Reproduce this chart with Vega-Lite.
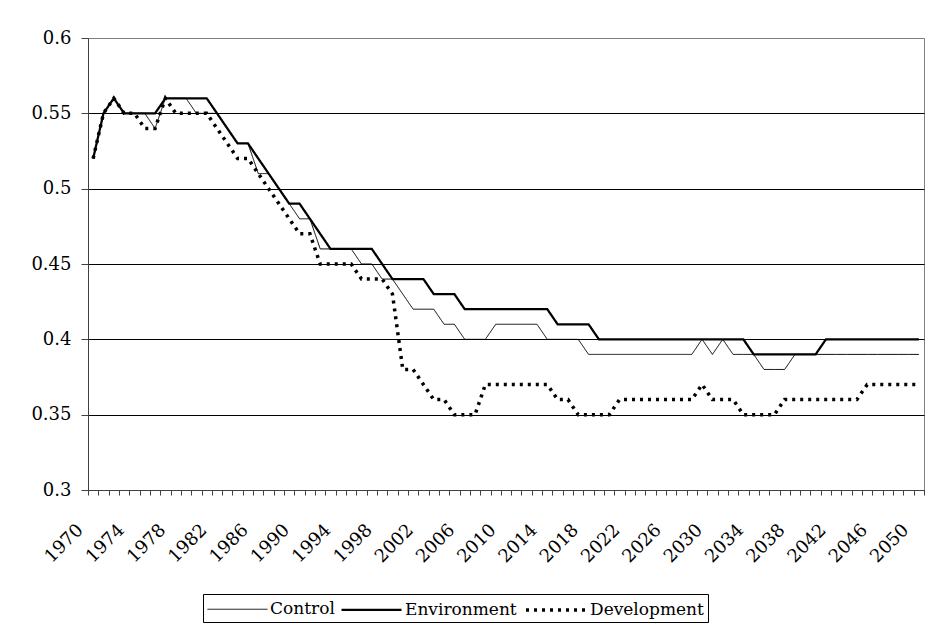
{
"$schema": "https://vega.github.io/schema/vega-lite/v6.json",
"width": 836, "height": 452,
"autosize": {"type": "none"},
"padding": {"left": 88, "top": 38, "right": 2, "bottom": 152},
"background": "white",
"config": {
 "font": "DejaVu Serif",
 "view": {"stroke": "#808080", "strokeWidth": 1},
 "axis": {"labelFont": "DejaVu Serif", "labelFontSize": 18, "labelColor": "black", "domainColor": "#404040", "tickColor": "#404040", "title": null},
 "legend": {"labelFont": "DejaVu Serif"}
},
"data": {"values": [
{"year":1970,"series":"Control","value":0.52},{"year":1971,"series":"Control","value":0.55},{"year":1972,"series":"Control","value":0.56},{"year":1973,"series":"Control","value":0.55},{"year":1974,"series":"Control","value":0.55},{"year":1975,"series":"Control","value":0.55},{"year":1976,"series":"Control","value":0.54},{"year":1977,"series":"Control","value":0.56},{"year":1978,"series":"Control","value":0.56},{"year":1979,"series":"Control","value":0.56},
{"year":1980,"series":"Control","value":0.55},{"year":1981,"series":"Control","value":0.55},{"year":1982,"series":"Control","value":0.55},{"year":1983,"series":"Control","value":0.54},{"year":1984,"series":"Control","value":0.53},{"year":1985,"series":"Control","value":0.53},{"year":1986,"series":"Control","value":0.51},{"year":1987,"series":"Control","value":0.51},{"year":1988,"series":"Control","value":0.50},{"year":1989,"series":"Control","value":0.49},
{"year":1990,"series":"Control","value":0.48},{"year":1991,"series":"Control","value":0.48},{"year":1992,"series":"Control","value":0.46},{"year":1993,"series":"Control","value":0.46},{"year":1994,"series":"Control","value":0.46},{"year":1995,"series":"Control","value":0.46},{"year":1996,"series":"Control","value":0.45},{"year":1997,"series":"Control","value":0.45},{"year":1998,"series":"Control","value":0.44},{"year":1999,"series":"Control","value":0.44},
{"year":2000,"series":"Control","value":0.43},{"year":2001,"series":"Control","value":0.42},{"year":2002,"series":"Control","value":0.42},{"year":2003,"series":"Control","value":0.42},{"year":2004,"series":"Control","value":0.41},{"year":2005,"series":"Control","value":0.41},{"year":2006,"series":"Control","value":0.40},{"year":2007,"series":"Control","value":0.40},{"year":2008,"series":"Control","value":0.40},{"year":2009,"series":"Control","value":0.41},
{"year":2010,"series":"Control","value":0.41},{"year":2011,"series":"Control","value":0.41},{"year":2012,"series":"Control","value":0.41},{"year":2013,"series":"Control","value":0.41},{"year":2014,"series":"Control","value":0.40},{"year":2015,"series":"Control","value":0.40},{"year":2016,"series":"Control","value":0.40},{"year":2017,"series":"Control","value":0.40},{"year":2018,"series":"Control","value":0.39},{"year":2019,"series":"Control","value":0.39},
{"year":2020,"series":"Control","value":0.39},{"year":2021,"series":"Control","value":0.39},{"year":2022,"series":"Control","value":0.39},{"year":2023,"series":"Control","value":0.39},{"year":2024,"series":"Control","value":0.39},{"year":2025,"series":"Control","value":0.39},{"year":2026,"series":"Control","value":0.39},{"year":2027,"series":"Control","value":0.39},{"year":2028,"series":"Control","value":0.39},{"year":2029,"series":"Control","value":0.40},
{"year":2030,"series":"Control","value":0.39},{"year":2031,"series":"Control","value":0.40},{"year":2032,"series":"Control","value":0.39},{"year":2033,"series":"Control","value":0.39},{"year":2034,"series":"Control","value":0.39},{"year":2035,"series":"Control","value":0.38},{"year":2036,"series":"Control","value":0.38},{"year":2037,"series":"Control","value":0.38},{"year":2038,"series":"Control","value":0.39},{"year":2039,"series":"Control","value":0.39},
{"year":2040,"series":"Control","value":0.39},{"year":2041,"series":"Control","value":0.39},{"year":2042,"series":"Control","value":0.39},{"year":2043,"series":"Control","value":0.39},{"year":2044,"series":"Control","value":0.39},{"year":2045,"series":"Control","value":0.39},{"year":2046,"series":"Control","value":0.39},{"year":2047,"series":"Control","value":0.39},{"year":2048,"series":"Control","value":0.39},{"year":2049,"series":"Control","value":0.39},{"year":2050,"series":"Control","value":0.39},
{"year":1970,"series":"Environment","value":0.52},{"year":1971,"series":"Environment","value":0.55},{"year":1972,"series":"Environment","value":0.56},{"year":1973,"series":"Environment","value":0.55},{"year":1974,"series":"Environment","value":0.55},{"year":1975,"series":"Environment","value":0.55},{"year":1976,"series":"Environment","value":0.55},{"year":1977,"series":"Environment","value":0.56},{"year":1978,"series":"Environment","value":0.56},{"year":1979,"series":"Environment","value":0.56},
{"year":1980,"series":"Environment","value":0.56},{"year":1981,"series":"Environment","value":0.56},{"year":1982,"series":"Environment","value":0.55},{"year":1983,"series":"Environment","value":0.54},{"year":1984,"series":"Environment","value":0.53},{"year":1985,"series":"Environment","value":0.53},{"year":1986,"series":"Environment","value":0.52},{"year":1987,"series":"Environment","value":0.51},{"year":1988,"series":"Environment","value":0.50},{"year":1989,"series":"Environment","value":0.49},
{"year":1990,"series":"Environment","value":0.49},{"year":1991,"series":"Environment","value":0.48},{"year":1992,"series":"Environment","value":0.47},{"year":1993,"series":"Environment","value":0.46},{"year":1994,"series":"Environment","value":0.46},{"year":1995,"series":"Environment","value":0.46},{"year":1996,"series":"Environment","value":0.46},{"year":1997,"series":"Environment","value":0.46},{"year":1998,"series":"Environment","value":0.45},{"year":1999,"series":"Environment","value":0.44},
{"year":2000,"series":"Environment","value":0.44},{"year":2001,"series":"Environment","value":0.44},{"year":2002,"series":"Environment","value":0.44},{"year":2003,"series":"Environment","value":0.43},{"year":2004,"series":"Environment","value":0.43},{"year":2005,"series":"Environment","value":0.43},{"year":2006,"series":"Environment","value":0.42},{"year":2007,"series":"Environment","value":0.42},{"year":2008,"series":"Environment","value":0.42},{"year":2009,"series":"Environment","value":0.42},
{"year":2010,"series":"Environment","value":0.42},{"year":2011,"series":"Environment","value":0.42},{"year":2012,"series":"Environment","value":0.42},{"year":2013,"series":"Environment","value":0.42},{"year":2014,"series":"Environment","value":0.42},{"year":2015,"series":"Environment","value":0.41},{"year":2016,"series":"Environment","value":0.41},{"year":2017,"series":"Environment","value":0.41},{"year":2018,"series":"Environment","value":0.41},{"year":2019,"series":"Environment","value":0.40},
{"year":2020,"series":"Environment","value":0.40},{"year":2021,"series":"Environment","value":0.40},{"year":2022,"series":"Environment","value":0.40},{"year":2023,"series":"Environment","value":0.40},{"year":2024,"series":"Environment","value":0.40},{"year":2025,"series":"Environment","value":0.40},{"year":2026,"series":"Environment","value":0.40},{"year":2027,"series":"Environment","value":0.40},{"year":2028,"series":"Environment","value":0.40},{"year":2029,"series":"Environment","value":0.40},
{"year":2030,"series":"Environment","value":0.40},{"year":2031,"series":"Environment","value":0.40},{"year":2032,"series":"Environment","value":0.40},{"year":2033,"series":"Environment","value":0.40},{"year":2034,"series":"Environment","value":0.39},{"year":2035,"series":"Environment","value":0.39},{"year":2036,"series":"Environment","value":0.39},{"year":2037,"series":"Environment","value":0.39},{"year":2038,"series":"Environment","value":0.39},{"year":2039,"series":"Environment","value":0.39},
{"year":2040,"series":"Environment","value":0.39},{"year":2041,"series":"Environment","value":0.40},{"year":2042,"series":"Environment","value":0.40},{"year":2043,"series":"Environment","value":0.40},{"year":2044,"series":"Environment","value":0.40},{"year":2045,"series":"Environment","value":0.40},{"year":2046,"series":"Environment","value":0.40},{"year":2047,"series":"Environment","value":0.40},{"year":2048,"series":"Environment","value":0.40},{"year":2049,"series":"Environment","value":0.40},{"year":2050,"series":"Environment","value":0.40},
{"year":1970,"series":"Development","value":0.52},{"year":1971,"series":"Development","value":0.55},{"year":1972,"series":"Development","value":0.56},{"year":1973,"series":"Development","value":0.55},{"year":1974,"series":"Development","value":0.55},{"year":1975,"series":"Development","value":0.54},{"year":1976,"series":"Development","value":0.54},{"year":1977,"series":"Development","value":0.56},{"year":1978,"series":"Development","value":0.55},{"year":1979,"series":"Development","value":0.55},
{"year":1980,"series":"Development","value":0.55},{"year":1981,"series":"Development","value":0.55},{"year":1982,"series":"Development","value":0.54},{"year":1983,"series":"Development","value":0.53},{"year":1984,"series":"Development","value":0.52},{"year":1985,"series":"Development","value":0.52},{"year":1986,"series":"Development","value":0.51},{"year":1987,"series":"Development","value":0.50},{"year":1988,"series":"Development","value":0.49},{"year":1989,"series":"Development","value":0.48},
{"year":1990,"series":"Development","value":0.47},{"year":1991,"series":"Development","value":0.47},{"year":1992,"series":"Development","value":0.45},{"year":1993,"series":"Development","value":0.45},{"year":1994,"series":"Development","value":0.45},{"year":1995,"series":"Development","value":0.45},{"year":1996,"series":"Development","value":0.44},{"year":1997,"series":"Development","value":0.44},{"year":1998,"series":"Development","value":0.44},{"year":1999,"series":"Development","value":0.43},
{"year":2000,"series":"Development","value":0.38},{"year":2001,"series":"Development","value":0.38},{"year":2002,"series":"Development","value":0.37},{"year":2003,"series":"Development","value":0.36},{"year":2004,"series":"Development","value":0.36},{"year":2005,"series":"Development","value":0.35},{"year":2006,"series":"Development","value":0.35},{"year":2007,"series":"Development","value":0.35},{"year":2008,"series":"Development","value":0.37},{"year":2009,"series":"Development","value":0.37},
{"year":2010,"series":"Development","value":0.37},{"year":2011,"series":"Development","value":0.37},{"year":2012,"series":"Development","value":0.37},{"year":2013,"series":"Development","value":0.37},{"year":2014,"series":"Development","value":0.37},{"year":2015,"series":"Development","value":0.36},{"year":2016,"series":"Development","value":0.36},{"year":2017,"series":"Development","value":0.35},{"year":2018,"series":"Development","value":0.35},{"year":2019,"series":"Development","value":0.35},
{"year":2020,"series":"Development","value":0.35},{"year":2021,"series":"Development","value":0.36},{"year":2022,"series":"Development","value":0.36},{"year":2023,"series":"Development","value":0.36},{"year":2024,"series":"Development","value":0.36},{"year":2025,"series":"Development","value":0.36},{"year":2026,"series":"Development","value":0.36},{"year":2027,"series":"Development","value":0.36},{"year":2028,"series":"Development","value":0.36},{"year":2029,"series":"Development","value":0.37},
{"year":2030,"series":"Development","value":0.36},{"year":2031,"series":"Development","value":0.36},{"year":2032,"series":"Development","value":0.36},{"year":2033,"series":"Development","value":0.35},{"year":2034,"series":"Development","value":0.35},{"year":2035,"series":"Development","value":0.35},{"year":2036,"series":"Development","value":0.35},{"year":2037,"series":"Development","value":0.36},{"year":2038,"series":"Development","value":0.36},{"year":2039,"series":"Development","value":0.36},
{"year":2040,"series":"Development","value":0.36},{"year":2041,"series":"Development","value":0.36},{"year":2042,"series":"Development","value":0.36},{"year":2043,"series":"Development","value":0.36},{"year":2044,"series":"Development","value":0.36},{"year":2045,"series":"Development","value":0.37},{"year":2046,"series":"Development","value":0.37},{"year":2047,"series":"Development","value":0.37},{"year":2048,"series":"Development","value":0.37},{"year":2049,"series":"Development","value":0.37},{"year":2050,"series":"Development","value":0.37}
]},
"mark": {"type": "line", "interpolate": "linear", "strokeJoin": "miter"},
"encoding": {
 "x": {"field": "year", "type": "quantitative",
  "scale": {"domain": [1969.5, 2050.5], "nice": false, "zero": false},
  "axis": {
   "values": [1969.5,1970.5,1971.5,1972.5,1973.5,1974.5,1975.5,1976.5,1977.5,1978.5,1979.5,1980.5,1981.5,1982.5,1983.5,1984.5,1985.5,1986.5,1987.5,1988.5,1989.5,1990.5,1991.5,1992.5,1993.5,1994.5,1995.5,1996.5,1997.5,1998.5,1999.5,2000.5,2001.5,2002.5,2003.5,2004.5,2005.5,2006.5,2007.5,2008.5,2009.5,2010.5,2011.5,2012.5,2013.5,2014.5,2015.5,2016.5,2017.5,2018.5,2019.5,2020.5,2021.5,2022.5,2023.5,2024.5,2025.5,2026.5,2027.5,2028.5,2029.5,2030.5,2031.5,2032.5,2033.5,2034.5,2035.5,2036.5,2037.5,2038.5,2039.5,2040.5,2041.5,2042.5,2043.5,2044.5,2045.5,2046.5,2047.5,2048.5,2049.5,2050.5],
   "labelExpr": "((datum.value + 0.5) % 4 == 2) ? toString(datum.value + 0.5) : ''",
   "labelAngle": -45, "labelAlign": "right", "labelBaseline": "middle",
   "labelOffset": -8, "labelPadding": 32, "labelOverlap": false, "labelBound": false, "labelFlush": false,
   "tickSize": 5, "grid": false
  }},
 "y": {"field": "value", "type": "quantitative",
  "scale": {"domain": [0.3, 0.6], "nice": false, "zero": false},
  "axis": {
   "values": [0.3,0.35,0.4,0.45,0.5,0.55,0.6], "format": "~g",
   "grid": true, "gridColor": {"condition": {"test": "datum.value > 0.59", "value": "#808080"}, "value": "black"}, "gridWidth": 1,
   "tickSize": 7, "labelPadding": 10
  }},
 "color": {"field": "series", "type": "nominal",
  "scale": {"domain": ["Control","Environment","Development"], "range": ["black","black","black"]},
  "legend": {"orient": "none", "legendX": 115, "legendY": 556, "direction": "horizontal", "title": null,
   "symbolType": "M-3,0H3", "symbolSize": 400, "symbolOffset": 20, "labelOffset": 22,
   "labelFont": "DejaVu Serif", "labelFontSize": 17, "labelColor": "black",
   "strokeColor": "black", "padding": 4, "columnPadding": 2, "symbolStrokeColor": "black", "symbolFillColor": "transparent"}},
 "strokeWidth": {"field": "series", "type": "nominal",
  "scale": {"domain": ["Control","Environment","Development"], "range": [1, 3.5, 1.1]}},
 "strokeDash": {"field": "series", "type": "nominal",
  "scale": {"domain": ["Control","Environment","Development"], "range": [[1,0],[1,0],[3,5]]}}
}
}
